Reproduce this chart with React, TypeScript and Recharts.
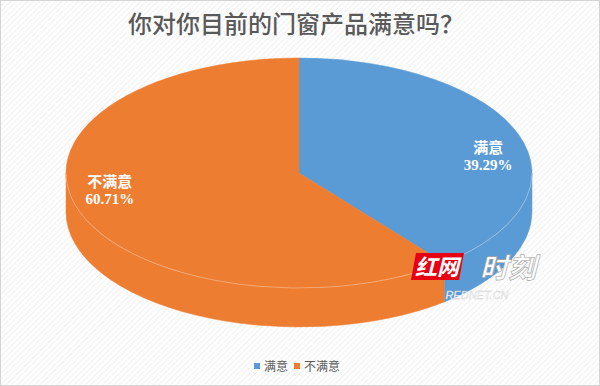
import React from 'react';
import { PieChart, Pie, Cell, Legend } from 'recharts';

const CATEGORIES = ['满意', '不满意'];
const VALUES = [39.29, 60.71];
const COLORS = ['#5B9BD5', '#ED7D31'];
const TITLE = '你对你目前的门窗产品满意吗？';

const data = CATEGORIES.map((name, i) => ({ name, value: VALUES[i] }));

const W = 600;
const H = 386;
const SQUASH = 115 / 233; // vertical radius / horizontal radius of the tilted pie
const DEPTH = 39; // height of the pie's side wall

const CJK = '"Liberation Serif", "Noto Sans CJK SC", serif';
const SANS = '"Noto Sans CJK SC", "Noto Sans", sans-serif';

// angle measured clockwise from 12 o'clock -> point on the ellipse
const pt = (cx: number, cy: number, rx: number, ry: number, phi: number) => {
  const r = (phi * Math.PI) / 180;
  return [cx + rx * Math.sin(r), cy - ry * Math.cos(r)];
};

const Slice3D = (props: any) => {
  const { cx, cy, outerRadius, startAngle, endAngle, fill } = props;
  const rx = outerRadius;
  const ry = outerRadius * SQUASH;
  const p1 = 90 - startAngle;
  const p2 = 90 - endAngle;
  const [x1, y1] = pt(cx, cy, rx, ry, p1);
  const [x2, y2] = pt(cx, cy, rx, ry, p2);
  const large = p2 - p1 > 180 ? 1 : 0;
  const top = `M${cx},${cy} L${x1},${y1} A${rx},${ry} 0 ${large} 1 ${x2},${y2} Z`;

  const walls: string[] = [];
  const edges: string[] = [];
  for (const [lo, hi] of [[90, 270], [450, 630]]) {
    const a = Math.max(p1, lo);
    const b = Math.min(p2, hi);
    if (b - a > 0.01) {
      const [ax, ay] = pt(cx, cy, rx, ry, a);
      const [bx, by] = pt(cx, cy, rx, ry, b);
      walls.push(
        `M${ax},${ay} A${rx},${ry} 0 0 1 ${bx},${by} L${bx},${by + DEPTH} A${rx},${ry} 0 0 0 ${ax},${ay + DEPTH} Z`
      );
      edges.push(`M${ax},${ay} A${rx},${ry} 0 0 1 ${bx},${by}`);
    }
  }

  return (
    <g>
      {walls.map((d, i) => (
        <path key={'w' + i} d={d} fill={fill} stroke={fill} strokeWidth={0.5} />
      ))}
      <path d={top} fill={fill} stroke={fill} strokeWidth={0.5} />
      {edges.map((d, i) => (
        <path key={'e' + i} d={d} fill="none" stroke="rgba(255,255,255,0.3)" strokeWidth={1} />
      ))}
    </g>
  );
};

const renderLabel = (props: any) => {
  const { cx, cy, midAngle, outerRadius, percent, name } = props;
  const rx = outerRadius;
  const ry = outerRadius * SQUASH;
  const rad = (midAngle * Math.PI) / 180;
  const x = cx + 0.86 * rx * Math.cos(rad);
  const y = cy - 0.86 * ry * 0.52 * Math.sin(rad);
  return (
    <text
      x={x}
      y={y}
      textAnchor="middle"
      fill="#ffffff"
      fontFamily={CJK}
      fontWeight="bold"
      fontSize={15}
    >
      <tspan x={x} dy={-3}>{name}</tspan>
      <tspan x={x} dy={17}>{(percent * 100).toFixed(2) + '%'}</tspan>
    </text>
  );
};

const renderLegend = (props: any) => {
  const items = [...(props.payload || [])].sort(
    (a: any, b: any) => CATEGORIES.indexOf(a.value) - CATEGORIES.indexOf(b.value)
  );
  return (
    <div
      style={{
        display: 'flex',
        justifyContent: 'center',
        alignItems: 'center',
        fontSize: 12,
        color: '#595959',
        fontFamily: SANS,
      }}
    >
      {items.map((entry: any, i: number) => (
        <span key={i} style={{ display: 'inline-flex', alignItems: 'center', marginRight: 6 }}>
          <span style={{ width: 6, height: 6, background: entry.color, marginRight: 4 }} />
          {entry.value}
        </span>
      ))}
    </div>
  );
};

const Background = () => (
  <svg width={W} height={H} style={{ position: 'absolute', left: 0, top: 0 }}>
    <defs>
      <pattern id="stripes" width="4" height="4" patternUnits="userSpaceOnUse" patternTransform="rotate(45)">
        <rect width="4" height="4" fill="#ffffff" />
        <line x1="0" y1="0" x2="0" y2="4" stroke="#ededed" strokeWidth="1.6" />
      </pattern>
    </defs>
    <rect x={0} y={0} width={W} height={H} fill="url(#stripes)" />
    <rect x={0.5} y={0.5} width={W - 1} height={H - 1} fill="none" stroke="#d4d4d4" />
  </svg>
);

const Overlay = () => (
  <svg width={W} height={H} style={{ position: 'absolute', left: 0, top: 0, pointerEvents: 'none' }}>
    <text x={296} y={33} textAnchor="middle" fontSize={24} fontWeight={500} fill="#595959" fontFamily={SANS}>
      {TITLE}
    </text>
    {/* watermark */}
    <polygon points="416,253 464,253 459,280 411,280" fill="#e60012" />
    <text x={437} y={275} textAnchor="middle" fontSize={22} fontWeight="bold" fontStyle="italic" fill="#ffffff" fontFamily={SANS}>
      红网
    </text>
    <text x={508} y={278} textAnchor="middle" fontSize={28} fontWeight="bold" fontStyle="italic" fill="#ffffff" stroke="#9a9a9a" strokeWidth={0.6} fontFamily={SANS}>
      时刻
    </text>
    <text x={477} y={299} textAnchor="middle" fontSize={11} fontStyle="italic" fill="#ffffff" stroke="#c8c8c8" strokeWidth={0.3} fontFamily='"Liberation Sans", sans-serif'>
      REDNET.CN
    </text>
  </svg>
);

export default function App() {
  return (
    <div style={{ position: 'absolute', left: 0, top: 0, width: W, height: H, overflow: 'hidden' }}>
      <Background />
      <div style={{ position: 'absolute', left: 0, top: 0 }}>
        <PieChart width={W} height={H} margin={{ top: 0, right: 0, bottom: 0, left: 0 }}>
          <Pie
            data={data}
            dataKey="value"
            nameKey="name"
            cx={299}
            cy={173}
            outerRadius={233}
            startAngle={90}
            endAngle={-270}
            stroke="none"
            shape={Slice3D}
            activeShape={Slice3D}
            label={renderLabel}
            labelLine={false}
            isAnimationActive={false}
          >
            {data.map((d, i) => (
              <Cell key={d.name} fill={COLORS[i]} />
            ))}
          </Pie>
          <Legend
            content={renderLegend}
            wrapperStyle={{ position: 'absolute', top: 357, left: 0, width: W }}
          />
        </PieChart>
      </div>
      <Overlay />
    </div>
  );
}
